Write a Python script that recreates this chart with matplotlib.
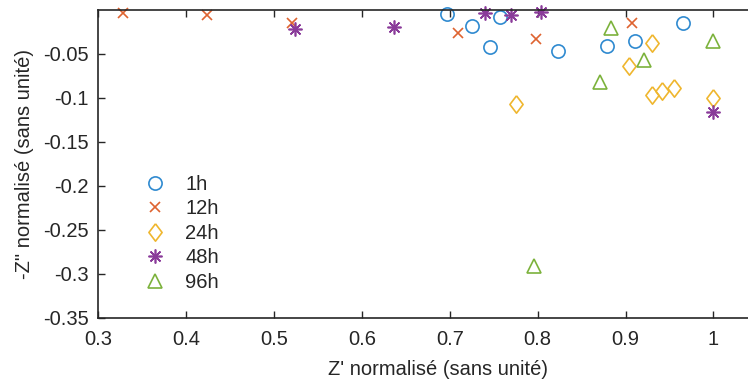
import numpy as np
import matplotlib.pyplot as plt

# Nyquist normalisé, par durée
labels = ['1h', '12h', '24h', '48h', '96h']

x_1h = [0.6965, 0.725, 0.7458, 0.7572, 0.8236, 0.8793, 0.9109, 0.9658]
y_1h = [-0.0045, -0.0178, -0.0417, -0.0076, -0.0462, -0.0409, -0.0352, -0.0151]

x_12h = [0.3285, 0.4241, 0.5201, 0.709, 0.7978, 0.9071]
y_12h = [-0.0037, -0.0053, -0.0144, -0.0264, -0.0333, -0.0144]

x_24h = [0.7754, 0.9044, 0.9305, 0.9299, 0.9419, 0.9552, 1.0]
y_24h = [-0.1067, -0.0636, -0.0378, -0.0965, -0.0919, -0.0889, -0.1002]

x_48h = [0.5239, 0.6366, 0.7401, 0.7694, 0.8035, 0.9993]
y_48h = [-0.0219, -0.019, -0.0037, -0.0057, -0.0019, -0.1166]

x_96h = [0.8832, 0.9211, 0.871, 1.0, 0.7956]
y_96h = [-0.0208, -0.0568, -0.0814, -0.0348, -0.2914]

plt.rcParams['font.family'] = ['Liberation Sans', 'DejaVu Sans']
txt = '#262626'

diamond = [(0, 1), (0.76, 0), (0, -1), (-0.76, 0), (0, 1)]
styles = [
    dict(marker='o', ms=9.5, color='#2f8ad0'),
    dict(marker='x', ms=7, color='#de6330'),
    dict(marker=diamond, ms=12.5, color='#efb62e'),
    dict(marker=(8, 2, 0), ms=10, color='#8a3b9a'),
    dict(marker='^', ms=10, color='#7cb23c'),
]
xs = [x_1h, x_12h, x_24h, x_48h, x_96h]
ys = [y_1h, y_12h, y_24h, y_48h, y_96h]

fig = plt.figure(figsize=(7.48, 3.83), dpi=100)
ax = fig.add_axes([0.1314, 0.1705, 0.8811, 0.8035])

for x, y, lab, st in zip(xs, ys, labels, styles):
    ax.plot(x, y, linestyle='none', marker=st['marker'], ms=st['ms'],
            mfc='none', mec=st['color'], mew=1.2, label=lab, clip_on=False)

ax.set_xlim(0.3, 1.05)
ax.set_ylim(-0.35, 0)
ax.set_xticks([0.3, 0.4, 0.5, 0.6, 0.7, 0.8, 0.9, 1.0])
ax.set_xticklabels(['0.3', '0.4', '0.5', '0.6', '0.7', '0.8', '0.9', '1'])
ax.set_yticks([-0.35, -0.3, -0.25, -0.2, -0.15, -0.1, -0.05])
ax.set_yticklabels(['-0.35', '-0.3', '-0.25', '-0.2', '-0.15', '-0.1', '-0.05'])
ax.tick_params(direction='in', length=5, width=1, colors=txt, labelsize=14.5,
               top=True, right=True)
ax.tick_params(axis='x', pad=9)
ax.tick_params(axis='y', pad=7)
for s in ax.spines.values():
    s.set_color(txt)
    s.set_linewidth(1.2)

ax.set_xlabel("Z' normalisé (sans unité)", fontsize=14.5, color=txt,
              labelpad=8, x=0.515)
ax.set_ylabel('-Z" normalisé (sans unité)', fontsize=14.5, color=txt, labelpad=6)

ax.legend(loc='upper left', bbox_to_anchor=(0.04, 0.51), frameon=False,
          fontsize=14.5, labelspacing=0.27, handletextpad=0.7, borderpad=0.2,
          handlelength=1.6, labelcolor=txt)

fig.savefig('out.png', dpi=100)
